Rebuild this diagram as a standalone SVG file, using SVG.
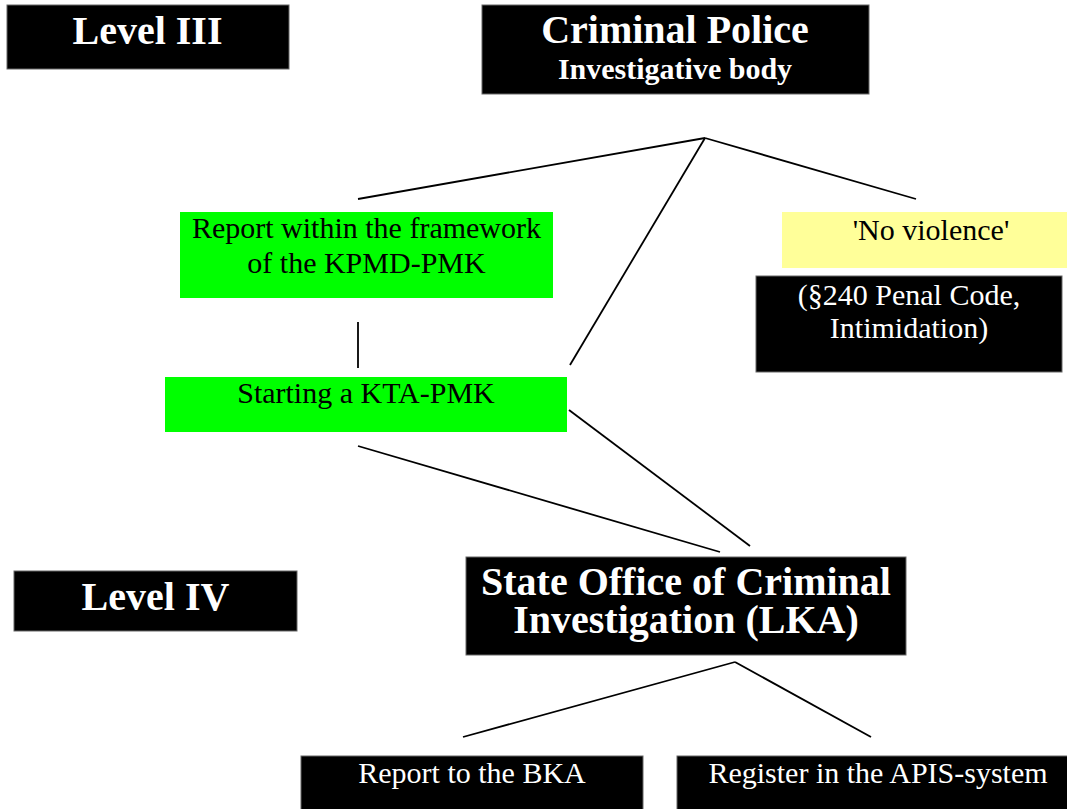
<svg xmlns="http://www.w3.org/2000/svg" width="1067" height="809" viewBox="0 0 1067 809">
<style>
.blk{fill:#000;stroke:#666;stroke-width:1}
.grn{fill:#00ff00}
.yel{fill:#ffff99}
.t{font-family:"Liberation Serif","Times New Roman",serif;text-anchor:middle}
.w{fill:#fff}
.k{fill:#000}
.b{font-weight:bold}
.s30{font-size:30px}
.s40{font-size:40px}
.conn line{stroke:#000;stroke-width:1.8;fill:none}
</style>
<rect width="1067" height="809" fill="#fff"/>
<g id="connectors" class="conn">
<line x1="705" y1="138" x2="358" y2="199"/>
<line x1="705" y1="138" x2="916" y2="199"/>
<line x1="705" y1="138" x2="570" y2="365"/>
<line x1="358" y1="322" x2="358" y2="368"/>
<line x1="358" y1="446" x2="720" y2="552"/>
<line x1="569" y1="410" x2="750" y2="546"/>
<line x1="735" y1="662" x2="463" y2="737"/>
<line x1="735" y1="662" x2="871" y2="737"/>
</g>
<g id="level3">
<rect class="blk" x="7" y="5" width="282" height="64"/>
<text class="t w b s40" x="147.5" y="44">Level III</text>
</g>
<g id="criminal-police">
<rect class="blk" x="482" y="5" width="387" height="89"/>
<text class="t w b s40" x="675" y="43">Criminal Police</text>
<text class="t w b s30" x="675" y="79">Investigative body</text>
</g>
<g id="report-kpmd">
<rect class="grn" x="180" y="212" width="373" height="86"/>
<text class="t k s30" x="366.5" y="238">Report within the framework</text>
<text class="t k s30" x="366.5" y="273">of the KPMD-PMK</text>
</g>
<g id="starting-kta">
<rect class="grn" x="165" y="377" width="402" height="55"/>
<text class="t k s30" x="366" y="403">Starting a KTA-PMK</text>
</g>
<g id="no-violence">
<rect class="yel" x="782" y="212" width="298" height="56"/>
<text class="t k s30" x="931" y="240">'No violence'</text>
</g>
<g id="penal-code">
<rect class="blk" x="756" y="276" width="306" height="96"/>
<text class="t w s30" x="909" y="305">(§240 Penal Code,</text>
<text class="t w s30" x="909" y="338">Intimidation)</text>
</g>
<g id="level4">
<rect class="blk" x="14" y="571" width="283" height="60"/>
<text class="t w b s40" x="155.5" y="610">Level IV</text>
</g>
<g id="lka">
<rect class="blk" x="466" y="557" width="440" height="98"/>
<text class="t w b s40" x="686" y="595">State Office of Criminal</text>
<text class="t w b s40" x="686" y="633">Investigation (LKA)</text>
</g>
<g id="report-bka">
<rect class="blk" x="301" y="756" width="342" height="60"/>
<text class="t w s30" x="472" y="783">Report to the BKA</text>
</g>
<g id="register-apis">
<rect class="blk" x="677" y="756" width="402" height="60"/>
<text class="t w s30" x="878" y="783">Register in the APIS-system</text>
</g>
</svg>
